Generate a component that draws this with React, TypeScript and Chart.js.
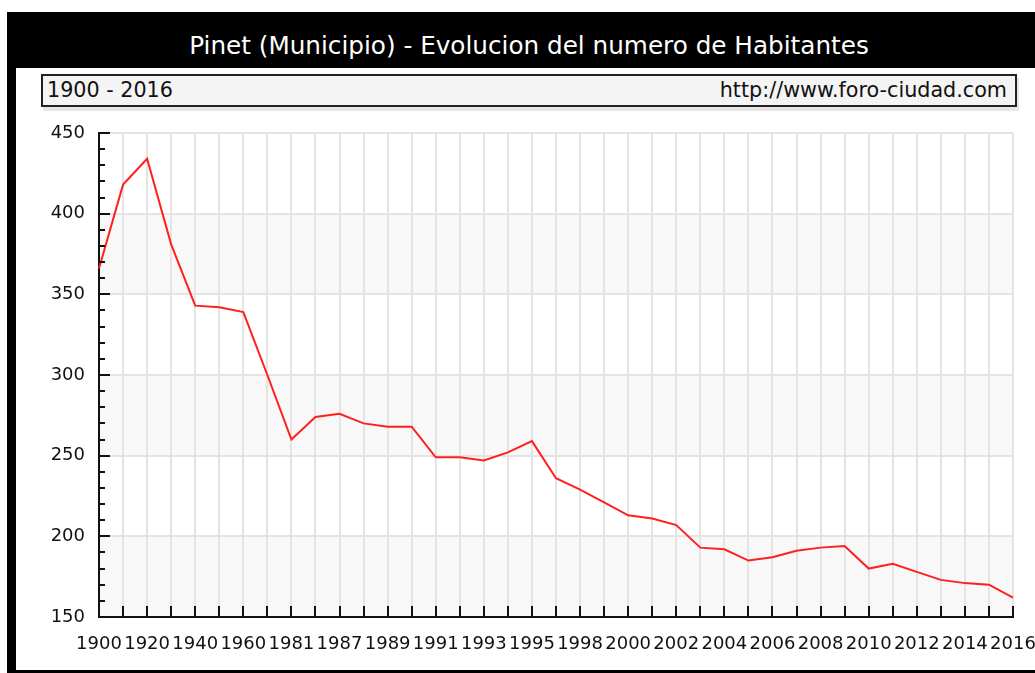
import React, { useEffect, useRef } from 'react';
import { Chart, registerables } from 'chart.js';

Chart.register(...registerables);

const years: string[] = [
  '1900', '1910', '1920', '1930', '1940', '1950', '1960', '1970', '1981', '1986',
  '1987', '1988', '1989', '1990', '1991', '1992', '1993', '1994', '1995', '1996',
  '1998', '1999', '2000', '2001', '2002', '2003', '2004', '2005', '2006', '2007',
  '2008', '2009', '2010', '2011', '2012', '2013', '2014', '2015', '2016',
];

const inhabitants: number[] = [
  366, 418, 434, 381, 343, 342, 339, 300, 260, 274,
  276, 270, 268, 268, 249, 249, 247, 252, 259, 236,
  229, 221, 213, 211, 207, 193, 192, 185, 187, 191,
  193, 194, 180, 183, 178, 173, 171, 170, 162,
];

const shownYears: string[] = [
  '1900', '1920', '1940', '1960', '1981', '1987', '1989', '1991', '1993', '1995',
  '1998', '2000', '2002', '2004', '2006', '2008', '2010', '2012', '2014', '2016',
];

const yTicks: number[] = [150, 200, 250, 300, 350, 400, 450];

const titleText = 'Pinet (Municipio) - Evolucion del numero de Habitantes';
const rangeText = '1900 - 2016';
const sourceText = 'http://www.foro-ciudad.com';

const FONT = '"DejaVu Sans", Verdana, sans-serif';

const bandsPlugin = {
  id: 'bands',
  beforeDraw(chart: any) {
    const { ctx, chartArea, scales } = chart;
    const y = scales.y;
    ctx.save();
    ctx.fillStyle = '#ffffff';
    ctx.fillRect(chartArea.left, chartArea.top, chartArea.right - chartArea.left, chartArea.bottom - chartArea.top);
    ctx.fillStyle = '#f8f8f8';
    for (let i = 0; i < yTicks.length - 1; i += 2) {
      const y0 = y.getPixelForValue(yTicks[i]);
      const y1 = y.getPixelForValue(yTicks[i + 1]);
      ctx.fillRect(chartArea.left, y1, chartArea.right - chartArea.left, y0 - y1);
    }
    ctx.restore();
  },
};

const innerTicksPlugin = {
  id: 'innerTicks',
  afterDraw(chart: any) {
    const { ctx, chartArea, scales } = chart;
    const x = scales.x;
    const y = scales.y;
    ctx.save();
    ctx.strokeStyle = '#111';
    ctx.lineWidth = 2;
    ctx.beginPath();
    for (let i = 0; i < years.length; i++) {
      const px = Math.round(x.getPixelForValue(i));
      ctx.moveTo(px, chartArea.bottom);
      ctx.lineTo(px, chartArea.bottom - 11);
    }
    for (let v = yTicks[0]; v <= yTicks[yTicks.length - 1]; v += 10) {
      const py = Math.round(y.getPixelForValue(v));
      const len = yTicks.includes(v) ? 11 : 6;
      ctx.moveTo(chartArea.left, py);
      ctx.lineTo(chartArea.left + len, py);
    }
    ctx.stroke();
    ctx.restore();
  },
};

function PopulationChart() {
  const ref = useRef<HTMLCanvasElement | null>(null);
  useEffect(() => {
    if (!ref.current) return;
    const chart = new Chart(ref.current, {
      type: 'line',
      data: {
        labels: years,
        datasets: [
          {
            data: inhabitants,
            borderColor: '#ff1f1f',
            borderWidth: 2,
            pointRadius: 0,
            tension: 0,
            fill: false,
          },
        ],
      },
      options: {
        animation: false,
        responsive: false,
        maintainAspectRatio: false,
        devicePixelRatio: 1,
        layout: { padding: { left: 0, right: 22, top: 133, bottom: 0 } },
        plugins: {
          legend: { display: false },
          title: { display: false },
          tooltip: { enabled: false },
        },
        scales: {
          x: {
            type: 'category',
            offset: false,
            grid: { color: '#e4e4e4', lineWidth: 2, drawTicks: false },
            border: { color: '#111', width: 2 },
            ticks: {
              autoSkip: false,
              maxRotation: 0,
              minRotation: 0,
              padding: 17,
              color: '#111',
              font: { family: FONT, size: 18 },
              callback: (_v: any, i: number) => (shownYears.includes(years[i]) ? years[i] : ''),
            },
            afterFit: (s: any) => {
              s.height = 56;
              s.paddingLeft = 0;
              s.paddingRight = 0;
            },
          },
          y: {
            min: yTicks[0],
            max: yTicks[yTicks.length - 1],
            grid: { color: '#e4e4e4', lineWidth: 2, drawTicks: false },
            border: { color: '#111', width: 2 },
            ticks: {
              stepSize: 50,
              padding: 14,
              color: '#111',
              font: { family: FONT, size: 18 },
            },
            afterFit: (s: any) => {
              s.width = 99;
              s.paddingTop = 0;
              s.paddingBottom = 0;
            },
          },
        },
      },
      plugins: [bandsPlugin, innerTicksPlugin],
    });
    return () => chart.destroy();
  }, []);
  return (
    <canvas
      ref={ref}
      width={1035}
      height={673}
      style={{ position: 'absolute', left: 0, top: 0, width: 1035, height: 673 }}
    />
  );
}

export default function App() {
  return (
    <div
      style={{
        position: 'fixed',
        left: 0,
        top: 0,
        width: 1035,
        height: 673,
        overflow: 'hidden',
        background: '#ffffff',
        fontFamily: FONT,
      }}
    >
      <div style={{ position: 'absolute', left: 7, top: 12, width: 1200, height: 700, background: '#000' }} />
      <div style={{ position: 'absolute', left: 16, top: 68, width: 1200, height: 602, background: '#fff' }} />
      <div
        style={{
          position: 'absolute',
          left: 7,
          top: 32,
          width: 1044,
          textAlign: 'center',
          color: '#fff',
          fontSize: 24.7,
          lineHeight: '28px',
          whiteSpace: 'nowrap',
        }}
      >
        {titleText}
      </div>
      <div
        style={{
          position: 'absolute',
          left: 41,
          top: 74,
          width: 972,
          height: 29,
          border: '2px solid #222',
          background: '#f4f4f4',
          boxShadow: '2px 4px 0 #e6e6e6',
          color: '#111',
          fontSize: 20.7,
          lineHeight: '29px',
          whiteSpace: 'nowrap',
        }}
      >
        <span style={{ position: 'absolute', left: 4, top: 0 }}>{rangeText}</span>
        <span style={{ position: 'absolute', right: 8, top: 0 }}>{sourceText}</span>
      </div>
      <PopulationChart />
    </div>
  );
}
